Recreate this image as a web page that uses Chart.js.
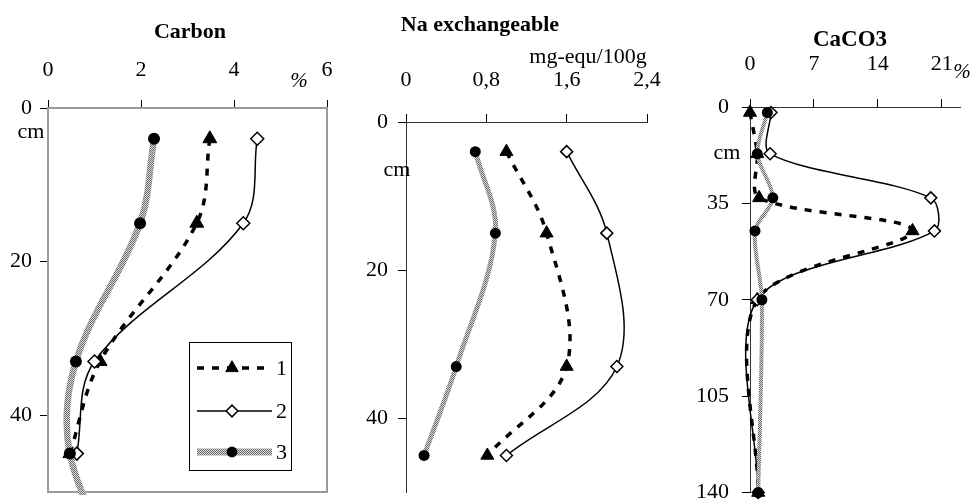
<!DOCTYPE html>
<html><head><meta charset="utf-8">
<script src="https://cdn.jsdelivr.net/npm/chart.js@4.4.0/dist/chart.umd.min.js"></script>
<style>
html,body{margin:0;padding:0;background:#fff;}
#wrap{position:relative;width:972px;height:501px;overflow:hidden;background:#fff;}
.pane{position:absolute;top:0;}
</style></head><body>
<div id="wrap">
<div class="pane" style="left:0;width:340px;height:501px"><canvas id="c1" width="340" height="501"></canvas></div>
<div class="pane" style="left:340px;width:330px;height:501px"><canvas id="c2" width="330" height="501"></canvas></div>
<div class="pane" style="left:680px;width:292px;height:501px"><canvas id="c3" width="292" height="501"></canvas></div>
</div>
<script>
// ---------- data ----------
const seriesNames = ['1', '2', '3'];

const carbonDepth  = [4, 15, 33, 45];
const carbonDepth3 = [4, 15, 33, 45, 60];
const carbon1 = [3.48, 3.2, 1.12, 0.47];
const carbon2 = [4.5, 4.2, 1.0, 0.62];
const carbon3 = [2.28, 1.98, 0.6, 0.47, 1.5];
const carbonXTicks  = [0, 2, 4, 6];
const carbonXLabels = ['0', '2', '4', '6'];
const carbonYTicks  = [0, 20, 40];
const carbonYLabels = ['0', '20', '40'];

const naDepth = [4, 15, 33, 45];
const na1 = [1.0, 1.4, 1.6, 0.81];
const na2 = [1.6, 2.0, 2.1, 1.0];
const na3 = [0.69, 0.89, 0.5, 0.18];
const naXTicks  = [0, 0.8, 1.6, 2.4];
const naXLabels = ['0', '0,8', '1,6', '2,4'];
const naYTicks  = [0, 20, 40];
const naYLabels = ['0', '20', '40'];

const caDepth = [2, 17, 33, 45, 70, 140];
const ca1 = [0, 0.8, 1.0, 17.8, 0.8, 0.9];
const ca2 = [2.3, 2.2, 19.8, 20.2, 0.8, 0.9];
const ca3 = [1.9, 0.8, 2.5, 0.55, 1.3, 0.9];
const caXTicks  = [0, 7, 14, 21];
const caXLabels = ['0', '7', '14', '21'];
const caYTicks  = [0, 35, 70, 105, 140];
const caYLabels = ['0', '35', '70', '105', '140'];

// ---------- helpers ----------
const SERIF = "'Liberation Serif', 'Times New Roman', serif";

function grayPattern() {
  const c = document.createElement('canvas');
  c.width = 2; c.height = 2;
  const g = c.getContext('2d');
  g.fillStyle = '#dcdcdc'; g.fillRect(0, 0, 2, 2);
  g.fillStyle = '#6a6a6a'; g.fillRect(0, 0, 1, 1); g.fillRect(1, 1, 1, 1);
  return g.createPattern(c, 'repeat');
}
const GRAY = grayPattern();

function pts(xs, ys) { return xs.map((v, i) => ({ x: v, y: ys[i] })); }

function makeSets(d1, x1, d2, x2, d3, x3, st) {
  return [
    { label: seriesNames[0], data: pts(x1, d1), showLine: true, order: 2,
      borderColor: '#000', borderWidth: st.w1, borderDash: [7, 8], tension: st.t,
      pointStyle: 'triangle', pointRadius: st.r1, pointBackgroundColor: '#000',
      pointBorderColor: '#000', pointBorderWidth: 1, clip: st.clip },
    { label: seriesNames[1], data: pts(x2, d2), showLine: true, order: 1,
      borderColor: '#000', borderWidth: 1.5, tension: st.t,
      pointStyle: 'rectRot', pointRadius: st.r2, pointBackgroundColor: '#fff',
      pointBorderColor: '#000', pointBorderWidth: 1.5, clip: st.clip },
    { label: seriesNames[2], data: pts(x3, d3), showLine: true, order: 0,
      borderColor: GRAY, borderWidth: st.w3, tension: st.t,
      pointStyle: 'circle', pointRadius: st.r3, pointBackgroundColor: '#000',
      pointBorderColor: '#000', pointBorderWidth: 0, clip: st.clip }
  ];
}

function zeroPad(s) { s.paddingLeft = 0; s.paddingRight = 0; s.paddingTop = 0; s.paddingBottom = 0; }

function xScale(min, max, ticks, labels, pad, borderColor, fitH, showBorder) {
  return {
    type: 'linear', position: 'top', min: min, max: max,
    afterBuildTicks: a => { a.ticks = ticks.map(v => ({ value: v })); },
    afterFit: s => { s.height = fitH; zeroPad(s); },
    ticks: { callback: (v, i) => labels[i], font: { family: SERIF, size: 22 }, color: '#000',
             padding: pad, maxRotation: 0, autoSkip: false },
    grid: { display: true, drawOnChartArea: false, tickLength: 8, tickColor: '#000', tickWidth: 1 },
    border: { display: showBorder, color: borderColor, width: 1 }
  };
}
function yScale(min, max, ticks, labels, pad, borderColor, fitW, showBorder) {
  return {
    type: 'linear', position: 'left', reverse: true, min: min, max: max,
    afterBuildTicks: a => { a.ticks = ticks.map(v => ({ value: v })); },
    afterFit: s => { s.width = fitW; zeroPad(s); },
    ticks: { callback: (v, i) => labels[i], font: { family: SERIF, size: 22 }, color: '#000',
             padding: pad, autoSkip: false },
    grid: { display: true, drawOnChartArea: false, tickLength: 8, tickColor: '#000', tickWidth: 1 },
    border: { display: showBorder, color: borderColor, width: 1 }
  };
}

function textPlugin(items) {
  return { id: 'texts', afterDraw(chart) {
    const ctx = chart.ctx;
    items.forEach(t => {
      ctx.save();
      ctx.font = t.font; ctx.fillStyle = '#000';
      ctx.textAlign = t.align || 'center'; ctx.textBaseline = 'middle';
      ctx.fillText(t.text, t.x, t.y);
      ctx.restore();
    });
  } };
}

const framePlugin = { id: 'frame', beforeDatasetsDraw(chart) {
  const a = chart.chartArea, ctx = chart.ctx;
  ctx.save();
  ctx.strokeStyle = '#9a9a9a'; ctx.lineWidth = 2;
  ctx.strokeRect(a.left, a.top, a.right - a.left, a.bottom - a.top);
  ctx.restore();
} };

function drawMarker(ctx, style, x, y, r) {
  ctx.beginPath();
  if (style === 'circle') { ctx.arc(x, y, r, 0, Math.PI * 2); }
  else if (style === 'triangle') {
    ctx.moveTo(x, y - r); ctx.lineTo(x + r * 0.866, y + r * 0.5); ctx.lineTo(x - r * 0.866, y + r * 0.5);
    ctx.closePath();
  } else { ctx.moveTo(x - r, y); ctx.lineTo(x, y - r); ctx.lineTo(x + r, y); ctx.lineTo(x, y + r); ctx.closePath(); }
}

const legendPlugin = { id: 'boxLegend', afterDraw(chart) {
  const ctx = chart.ctx;
  const bx = 189, by = 342, bw = 102, bh = 128;
  ctx.save();
  ctx.fillStyle = '#fff'; ctx.fillRect(bx, by, bw, bh);
  ctx.strokeStyle = '#000'; ctx.lineWidth = 1; ctx.strokeRect(bx + 0.5, by + 0.5, bw, bh);
  const rows = [368, 411, 452];
  chart.data.datasets.forEach((ds, i) => {
    const y = rows[i];
    ctx.save();
    ctx.strokeStyle = ds.borderColor; ctx.lineWidth = i === 2 ? 7 : ds.borderWidth;
    ctx.setLineDash(ds.borderDash || []);
    ctx.beginPath(); ctx.moveTo(197, y); ctx.lineTo(272, y); ctx.stroke();
    ctx.restore();
    drawMarker(ctx, ds.pointStyle, 232, y, ds.pointRadius * 0.9);
    ctx.fillStyle = ds.pointBackgroundColor; ctx.fill();
    if (ds.pointBorderWidth) { ctx.lineWidth = ds.pointBorderWidth; ctx.strokeStyle = '#000'; ctx.stroke(); }
    ctx.fillStyle = '#000'; ctx.font = '22px ' + SERIF; ctx.textAlign = 'left'; ctx.textBaseline = 'middle';
    ctx.fillText(ds.label, 276, y + 1);
  });
  ctx.restore();
} };

Chart.defaults.animation = false;
Chart.defaults.font.family = SERIF;

function baseOptions(scx, scy, pad) {
  return {
    responsive: false, maintainAspectRatio: false, animation: false, devicePixelRatio: 1,
    layout: { padding: pad },
    plugins: { legend: { display: false }, tooltip: { enabled: false }, title: { display: false } },
    elements: { line: { capBezierPoints: false } },
    scales: { x: scx, y: scy }
  };
}

// ---------- Carbon ----------
new Chart(document.getElementById('c1'), {
  type: 'scatter',
  data: { datasets: makeSets(carbonDepth, carbon1, carbonDepth, carbon2, carbonDepth3, carbon3,
          { w1: 3.5, w3: 6.5, r1: 8, r2: 6.5, r3: 6, t: 0.35, clip: 3 }) },
  options: baseOptions(
    xScale(0, 6, carbonXTicks, carbonXLabels, 17, '#9a9a9a', 108, false),
    yScale(0, 50, carbonYTicks, carbonYLabels, 8, '#9a9a9a', 48, false),
    { left: 0, top: 0, right: 13, bottom: 4 }),
  plugins: [framePlugin, legendPlugin, textPlugin([
    { text: 'Carbon', x: 190, y: 32, font: 'bold 22px ' + SERIF },
    { text: '%', x: 299, y: 81, font: 'italic 21px ' + SERIF },
    { text: 'cm', x: 31, y: 132, font: '22px ' + SERIF }
  ])]
});

// ---------- Na exchangeable ----------
new Chart(document.getElementById('c2'), {
  type: 'scatter',
  data: { datasets: makeSets(naDepth, na1, naDepth, na2, naDepth, na3,
          { w1: 3.5, w3: 5, r1: 7.5, r2: 6, r3: 5.5, t: 0.35, clip: 10 }) },
  options: baseOptions(
    xScale(0, 2.4, naXTicks, naXLabels, 21, '#333', 122, true),
    yScale(0, 50, naYTicks, naYLabels, 10, '#333', 66, true),
    { left: 0, top: 0, right: 23, bottom: 6 }),
  plugins: [textPlugin([
    { text: 'Na exchangeable', x: 140, y: 25, font: 'bold 22px ' + SERIF },
    { text: 'mg-equ/100g', x: 248, y: 57, font: '22px ' + SERIF },
    { text: 'cm', x: 57, y: 170, font: '22px ' + SERIF }
  ])]
});

// ---------- CaCO3 ----------
new Chart(document.getElementById('c3'), {
  type: 'scatter',
  data: { datasets: makeSets(caDepth, ca1, caDepth, ca2, caDepth, ca3,
          { w1: 3.5, w3: 4, r1: 7.5, r2: 6, r3: 5.5, t: 0.3, clip: 12 }) },
  options: baseOptions(
    xScale(0, 23, caXTicks, caXLabels, 22, '#333', 107, true),
    yScale(0, 140, caYTicks, caYLabels, 13, '#333', 70, true),
    { left: 0, top: 0, right: 12, bottom: 8 }),
  plugins: [textPlugin([
    { text: 'CaCO3', x: 170, y: 40, font: 'bold 23px ' + SERIF },
    { text: '%', x: 282, y: 72, font: 'italic 21px ' + SERIF },
    { text: 'cm', x: 47, y: 153, font: '22px ' + SERIF }
  ])]
});
</script>
</body></html>
